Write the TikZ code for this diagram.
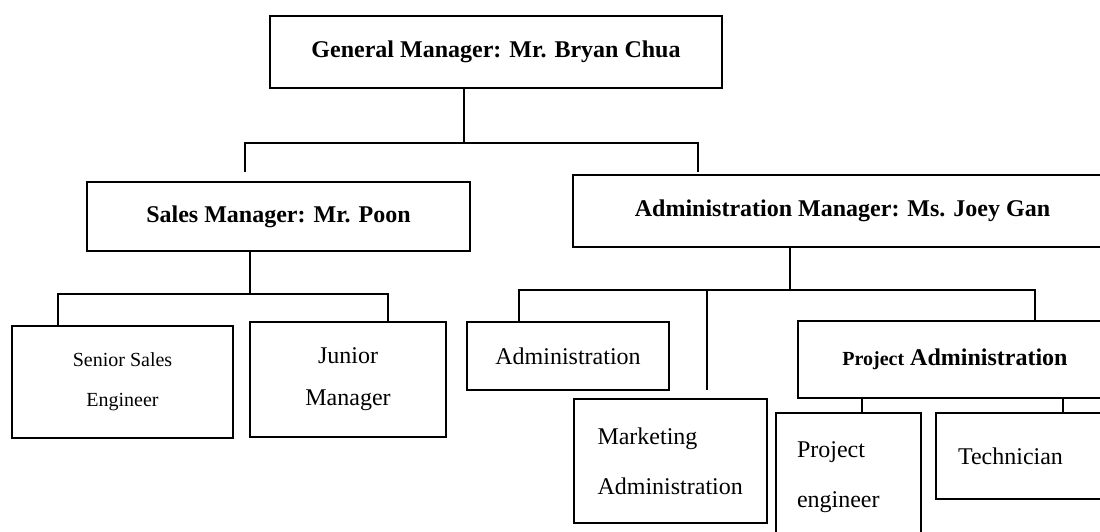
\documentclass[tikz,border=0pt]{standalone}
\usepackage{fontspec}
\setmainfont{Liberation Serif}
\usepackage{tikz}

\begin{document}
\begin{tikzpicture}[
  x=1pt, y=-1pt,
  box/.style={draw, line width=1.5pt, inner sep=0pt, align=center},
  link/.style={line width=1.5pt},
  head/.style={font=\fontsize{24}{29}\selectfont\bfseries},
  plain/.style={font=\fontsize{24}{50}\selectfont}
]
\useasboundingbox (0,0) rectangle (1100,531);
\clip (0,0) rectangle (1100,531);

% Top: general manager
\node[box, head, minimum width=452pt, minimum height=72pt] (gm) at (496,52) {General Manager: Mr. Bryan Chua};

% Second level
\node[box, head, minimum width=383pt, minimum height=69pt] (sm) at (278.5,216.5) {Sales Manager: Mr. Poon};
\node[box, head, minimum width=539pt, minimum height=72pt] (am) at (842.5,211) {Administration Manager: Ms. Joey Gan};

% Sales side
\node[box, font=\fontsize{20}{40}\selectfont, minimum width=221pt, minimum height=112pt] (sse) at (122.5,382) {Senior Sales\\Engineer};
\node[box, font=\fontsize{24}{42}\selectfont, minimum width=196pt, minimum height=115pt] (jm) at (348,379.5) {Junior\\Manager};

% Administration side
\node[box, plain, minimum width=202pt, minimum height=68pt] (ad) at (568,356) {Administration};
\node[box, plain, align=left, text width=146pt, minimum width=193pt, minimum height=124pt] (mk) at (670.5,461) {Marketing\\Administration};
\node[box, head, minimum width=314pt, minimum height=77pt] (pa) at (955,359.5) {{\fontsize{20}{29}\selectfont Project} Administration};
\node[box, plain, align=left, text width=103pt, minimum width=145pt, minimum height=128pt] (pe) at (848.5,477) {Project\\engineer};
\node[box, plain, align=left, text width=132pt, minimum width=176pt, minimum height=86pt] (tc) at (1024,456) {Technician};

% Joints and free ends
\coordinate (gmj) at (464,143);
\coordinate (smdrop) at (245,172);
\coordinate (amdrop) at (698,172);
\coordinate (smj) at (250,294);
\coordinate (ssex) at (58,294);
\coordinate (jmx) at (388,294);
\coordinate (amj) at (790,290);
\coordinate (adx) at (519,290);
\coordinate (pax) at (1035,290);
\coordinate (mkj) at (707,290);
\coordinate (mkend) at (707,390);
\coordinate (pej) at (862,400);
\coordinate (tcj) at (1063,400);

% Connectors
\draw[link] (gm.south -| gmj) -- (gmj);
\draw[link] (smdrop) |- (gmj) -| (amdrop);
\draw[link] (sm.south -| smj) -- (smj);
\draw[link] (sse.north -| ssex) |- (smj) -| (jm.north -| jmx);
\draw[link] (am.south -| amj) -- (amj);
\draw[link] (ad.north -| adx) |- (amj) -| (pa.north -| pax);
\draw[link] (mkj) -- (mkend);
\draw[link] (pa.south -| pej) -- (pe.north -| pej);
\draw[link] (pa.south -| tcj) -- (tc.north -| tcj);

\end{tikzpicture}
\end{document}
